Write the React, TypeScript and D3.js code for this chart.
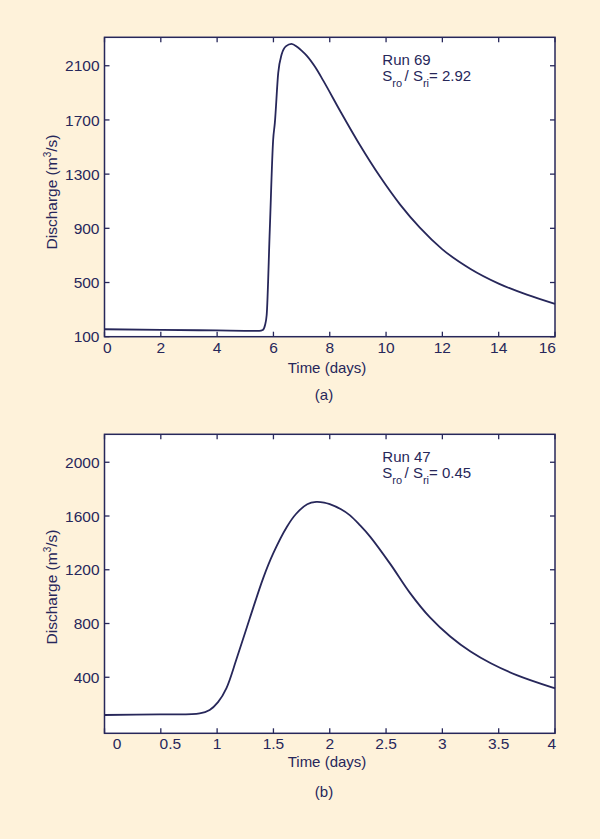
import React from 'react';
import * as d3 from 'd3';

// Run 69 (panel a)
const runATime = [0, 2, 4, 5.5, 5.62, 5.7, 5.76, 5.87, 5.99, 6.05, 6.17, 6.29, 6.45, 6.64, 6.85, 7.0, 7.18, 7.5, 7.77, 8.36, 9.07, 9.79, 10.5, 11.2, 12.0, 13.0, 14.0, 15.0, 16.0];
const runAFlow = [155, 151, 146, 143, 150, 185, 260, 888, 1554, 1678, 2047, 2183, 2245, 2262, 2238, 2212, 2175, 2085, 1990, 1770, 1515, 1280, 1075, 905, 745, 600, 492, 410, 342];
const runAXTicks = [0, 2, 4, 6, 8, 10, 12, 14, 16];
const runAYTicks = [100, 500, 900, 1300, 1700, 2100];

// Run 47 (panel b)
const runBTime = [0, 0.49, 0.845, 0.934, 1.008, 1.083, 1.17, 1.29, 1.41, 1.5, 1.62, 1.7, 1.8, 1.88, 1.95, 2.0, 2.1, 2.18, 2.27, 2.36, 2.54, 2.71, 2.89, 3.07, 3.25, 3.43, 3.66, 3.98, 4.0];
const runBFlow = [119, 124, 131, 157, 215, 320, 530, 839, 1140, 1325, 1520, 1615, 1688, 1705, 1700, 1688, 1650, 1605, 1530, 1445, 1240, 1030, 845, 703, 591, 504, 416, 323, 318];
const runBXTicks = [0, 0.5, 1, 1.5, 2, 2.5, 3, 3.5, 4];
const runBYTicks = [400, 800, 1200, 1600, 2000];

const INK = '#27275a';
const BG = '#fef2da';
const FONT = '"Liberation Sans", Arial, Helvetica, sans-serif';

type PanelProps = {
  time: number[];
  flow: number[];
  xTicks: number[];
  yTicks: number[];
  xDomain: [number, number];
  yDomain: [number, number];
  top: number;
  bottom: number;
  run: string;
  ratio: string;
  letter: string;
  curve: d3.CurveFactory;
  xLabelDx: (i: number, n: number) => number;
  xLabelAnchor: (i: number, n: number) => string;
  yLabelCenter: number;
  xTitleY: number;
  letterY: number;
  annY: number;
};

const LEFT = 104.5;
const RIGHT = 555;

function Panel(p: PanelProps) {
  const x = d3.scaleLinear().domain(p.xDomain).range([LEFT, RIGHT]);
  const y = d3.scaleLinear().domain(p.yDomain).range([p.bottom, p.top]);
  const pts = p.time.map((t, i) => [t, p.flow[i]] as [number, number]);
  const line = d3
    .line<[number, number]>()
    .x((d) => x(d[0]))
    .y((d) => y(d[1]))
    .curve(p.curve);
  const tl = 5;
  const n = p.xTicks.length;
  return (
    <g>
      <rect x={LEFT} y={p.top} width={RIGHT - LEFT} height={p.bottom - p.top} fill="#fff" />
      <path d={line(pts) || ''} fill="none" stroke={INK} strokeWidth={1.8} strokeLinejoin="round" />
      {p.xTicks.map((t) => (
        <g key={'xt' + t}>
          <line x1={x(t)} x2={x(t)} y1={p.bottom} y2={p.bottom - tl} stroke={INK} strokeWidth={1.3} />
          <line x1={x(t)} x2={x(t)} y1={p.top} y2={p.top + tl} stroke={INK} strokeWidth={1.3} />
        </g>
      ))}
      {p.yTicks.map((v) => (
        <g key={'yt' + v}>
          <line x1={LEFT} x2={LEFT + tl} y1={y(v)} y2={y(v)} stroke={INK} strokeWidth={1.3} />
          <line x1={RIGHT} x2={RIGHT - tl} y1={y(v)} y2={y(v)} stroke={INK} strokeWidth={1.3} />
          <text x={LEFT - 5} y={y(v)} dy="0.36em" textAnchor="end" fontSize={15.5} fill={INK}>
            {v}
          </text>
        </g>
      ))}
      {p.xTicks.map((t, i) => (
        <text
          key={'xl' + t}
          x={x(t) + p.xLabelDx(i, n)}
          y={p.bottom + 16}
          textAnchor={p.xLabelAnchor(i, n)}
          fontSize={15.5}
          fill={INK}
        >
          {t}
        </text>
      ))}
      <rect
        x={LEFT}
        y={p.top}
        width={RIGHT - LEFT}
        height={p.bottom - p.top}
        fill="none"
        stroke={INK}
        strokeWidth={1.5}
      />
      <text x={327} y={p.xTitleY} textAnchor="middle" fontSize={15} fill={INK}>
        Time (days)
      </text>
      <text
        transform={`translate(57,${p.yLabelCenter}) rotate(-90)`}
        textAnchor="middle"
        fontSize={15.5}
        fill={INK}
      >
        Discharge (m<tspan dy={-6} fontSize={10}>3</tspan>
        <tspan dy={6}>/s)</tspan>
      </text>
      <text x={382.3} y={p.annY} fontSize={15} fill={INK}>
        {p.run}
      </text>
      <text x={382.3} y={p.annY + 15.5} fontSize={15} fill={INK}>
        S<tspan dy={6} fontSize={11}>ro</tspan>
        <tspan dy={-6} dx={2.5}>/ S</tspan>
        <tspan dy={6} fontSize={11}>ri</tspan>
        <tspan dy={-6}>= {p.ratio}</tspan>
      </text>
      <text x={324} y={p.letterY} textAnchor="middle" fontSize={15} fill={INK}>
        ({p.letter})
      </text>
    </g>
  );
}

export default function App() {
  return (
    <svg
      width={600}
      height={839}
      viewBox="0 0 600 839"
      style={{ position: 'absolute', left: 0, top: 0, fontFamily: FONT }}
    >
      <rect x={0} y={0} width={600} height={839} fill={BG} />
      <Panel
        time={runATime}
        flow={runAFlow}
        xTicks={runAXTicks}
        yTicks={runAYTicks}
        xDomain={[0, 16]}
        yDomain={[100, 2310]}
        top={37.3}
        bottom={336.7}
        run="Run 69"
        ratio="2.92"
        letter="a"
        curve={d3.curveMonotoneX}
        xLabelDx={(i, n) => (i === 0 ? -1.5 : i === n - 1 ? 1 : 0)}
        xLabelAnchor={(i, n) => (i === 0 ? 'start' : i === n - 1 ? 'end' : 'middle')}
        yLabelCenter={192}
        xTitleY={372.5}
        letterY={400}
        annY={65}
      />
      <Panel
        time={runBTime}
        flow={runBFlow}
        xTicks={runBXTicks}
        yTicks={runBYTicks}
        xDomain={[0, 4]}
        yDomain={[-17, 2208]}
        top={434.3}
        bottom={733.3}
        run="Run 47"
        ratio="0.45"
        letter="b"
        curve={d3.curveCatmullRom.alpha(0.5)}
        xLabelDx={(i, n) => (i === 0 ? 12.5 : i === 1 ? 9.5 : i === n - 1 ? 1 : 0)}
        xLabelAnchor={(i, n) => (i === n - 1 ? 'end' : 'middle')}
        yLabelCenter={587}
        xTitleY={766.5}
        letterY={797}
        annY={462}
      />
    </svg>
  );
}
